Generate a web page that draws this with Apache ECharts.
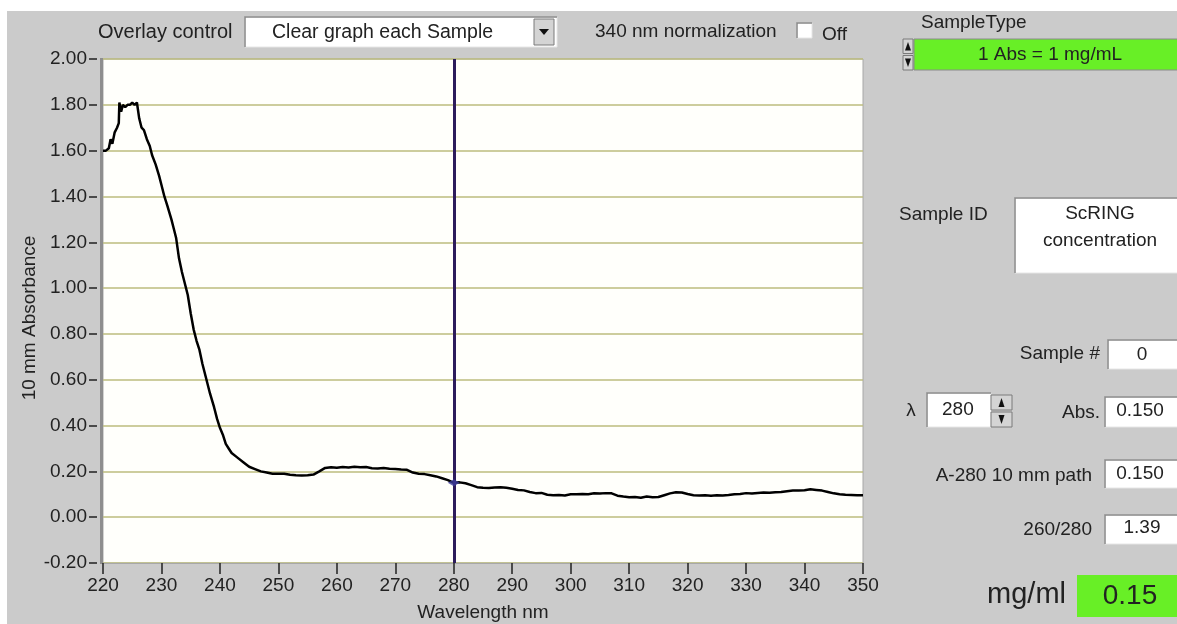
<!DOCTYPE html>
<html>
<head>
<meta charset="utf-8">
<script src="https://cdn.jsdelivr.net/npm/echarts@6/dist/echarts.min.js"></script>
<style>
html,body{margin:0;padding:0;background:#cbcbcb;}
#chart{width:1177px;height:624px;}
</style>
</head>
<body>
<div id="chart"></div>
<script>
// ---- data ----
const wavelengths = [220,220.5,221,221.3,221.6,222,222.4,222.7,222.8,223.1,223.4,223.8,224.2,224.6,225,225.4,225.8,226.2,226.6,227,227.5,228,228.4,229,229.6,230,230.5,231,231.7,232.1,232.5,233,233.5,234,234.5,235,235.5,236,236.5,237,237.7,238.3,239,239.5,240,240.5,241,241.5,242,243,244,245,246,247,248,249,250,251,252,253,254,255,256,257,258,259,260,261,262,263,264,265,266,267,268,269,270,271,272,273,274,275,276,277,278,279,280,281,282,283,284,285,286,287,288,289,290,291,292,293,294,295,296,297,298,299,300,301,302,303,304,305,306,307,308,309,310,311,312,313,314,315,316,317,318,319,320,321,322,323,324,325,326,327,328,329,330,331,332,333,334,335,336,337,338,339,340,341,342,343,344,345,346,347,348,349,350];
const absorbance = [1.60,1.60,1.61,1.65,1.63,1.68,1.70,1.72,1.81,1.77,1.80,1.79,1.80,1.80,1.81,1.80,1.81,1.74,1.70,1.69,1.65,1.62,1.58,1.54,1.49,1.45,1.40,1.36,1.30,1.26,1.22,1.13,1.07,1.02,0.97,0.89,0.82,0.77,0.73,0.67,0.60,0.54,0.48,0.43,0.39,0.36,0.32,0.30,0.28,0.26,0.24,0.22,0.21,0.20,0.195,0.19,0.19,0.19,0.185,0.183,0.182,0.183,0.186,0.20,0.215,0.218,0.216,0.219,0.217,0.220,0.218,0.219,0.214,0.213,0.215,0.211,0.210,0.208,0.207,0.195,0.190,0.188,0.183,0.178,0.170,0.162,0.150,0.152,0.148,0.140,0.131,0.128,0.127,0.130,0.131,0.128,0.124,0.119,0.117,0.110,0.105,0.106,0.098,0.096,0.097,0.095,0.100,0.100,0.101,0.100,0.104,0.103,0.105,0.104,0.094,0.090,0.087,0.088,0.085,0.090,0.087,0.088,0.096,0.104,0.109,0.108,0.101,0.096,0.095,0.096,0.094,0.096,0.095,0.097,0.100,0.101,0.105,0.103,0.106,0.108,0.107,0.109,0.110,0.113,0.116,0.117,0.118,0.122,0.119,0.116,0.110,0.104,0.100,0.098,0.097,0.096,0.096];
const cursorWavelength = 280;
const cursorAbs = 0.150;
const xRange = [220, 350, 10];
const yRange = [-0.2, 2.0, 0.2];
const xAxisTitle = 'Wavelength nm';
const yAxisTitle = '10 mm Absorbance';
const uiTexts = {
  overlayLabel: 'Overlay control',
  overlayValue: 'Clear graph each Sample',
  normLabel: '340 nm normalization',
  normState: 'Off',
  sampleTypeLabel: 'SampleType',
  sampleTypeValue: '1 Abs = 1 mg/mL',
  sampleIdLabel: 'Sample ID',
  sampleIdLines: ['ScRING', 'concentration'],
  sampleNumLabel: 'Sample #',
  sampleNum: '0',
  lambdaLabel: 'λ',
  lambdaValue: '280',
  absLabel: 'Abs.',
  absValue: '0.150',
  a280Label: 'A-280 10 mm path',
  a280Value: '0.150',
  ratioLabel: '260/280',
  ratioValue: '1.39',
  concLabel: 'mg/ml',
  concValue: '0.15'
};

const FONT = 'Liberation Sans, Arial, sans-serif';
const TXT = '#222222';
const GREEN = '#68ef26';

function txt(x, y, s, size, align, extra) {
  return Object.assign({
    type: 'text', z: 20,
    style: { x: x, y: y, text: s, fontFamily: FONT, fontSize: size || 19, fill: TXT,
             align: align || 'left', verticalAlign: 'middle' }
  }, extra || {});
}
function box(x, y, w, h, fill) {
  return [
    { type: 'rect', z: 10, shape: { x: x, y: y, width: w, height: h }, style: { fill: fill || '#ffffff', stroke: '#e6e6e6', lineWidth: 1 } },
    { type: 'polyline', z: 11, shape: { points: [[x, y + h], [x, y], [x + w, y]] }, style: { stroke: '#8a8a8a', lineWidth: 1.5, fill: null } }
  ];
}
function spinner(x, y, w, h) {
  const hh = h / 2;
  return [
    { type: 'rect', z: 12, shape: { x: x, y: y, width: w, height: hh - 1 }, style: { fill: '#d4d4d4', stroke: '#7a7a7a', lineWidth: 1 } },
    { type: 'rect', z: 12, shape: { x: x, y: y + hh + 1, width: w, height: hh - 1 }, style: { fill: '#d4d4d4', stroke: '#7a7a7a', lineWidth: 1 } },
    { type: 'polygon', z: 13, shape: { points: [[x + w / 2 - 3, y + hh - 4], [x + w / 2 + 3, y + hh - 4], [x + w / 2, y + 3]] }, style: { fill: '#111' } },
    { type: 'polygon', z: 13, shape: { points: [[x + w / 2 - 3, y + hh + 4], [x + w / 2 + 3, y + hh + 4], [x + w / 2, y + h - 3]] }, style: { fill: '#111' } }
  ];
}

const graphics = [].concat(
  // white strips at the top and left of the screenshot
  [{ type: 'rect', z: 1, shape: { x: 0, y: 0, width: 1177, height: 11 }, style: { fill: '#ffffff' } },
   { type: 'rect', z: 1, shape: { x: 0, y: 0, width: 7, height: 624 }, style: { fill: '#ffffff' } },
   // darker left edge of plot
   { type: 'rect', z: 5, shape: { x: 100, y: 58, width: 3, height: 506 }, style: { fill: '#8e8e8e' } }],
  // y axis title
  [{ type: 'text', z: 20, x: 30, y: 318, rotation: Math.PI / 2,
     style: { x: 0, y: 0, text: yAxisTitle, fontFamily: FONT, fontSize: 19, fill: TXT, align: 'center', verticalAlign: 'middle' } }],
  [txt(98, 32, uiTexts.overlayLabel, 20)],
  box(245, 17, 312, 30),
  [txt(272, 33, uiTexts.overlayValue, 19.5)],
  [{ type: 'rect', z: 12, shape: { x: 534, y: 19, width: 20, height: 26 }, style: { fill: '#d4d4d4', stroke: '#7a7a7a', lineWidth: 1 } },
   { type: 'polygon', z: 13, shape: { points: [[539, 29], [549, 29], [544, 35]] }, style: { fill: '#111' } }],
  [txt(595, 32, uiTexts.normLabel)],
  box(797, 23, 15, 15),
  [txt(822, 35, uiTexts.normState)],
  [txt(921, 23, uiTexts.sampleTypeLabel)],
  [{ type: 'rect', z: 10, shape: { x: 914, y: 39, width: 270, height: 31 }, style: { fill: GREEN, stroke: '#8a8a8a', lineWidth: 1 } }],
  spinner(903, 39, 10, 31),
  [txt(1050, 55, uiTexts.sampleTypeValue, 19, 'center')],
  [txt(899, 215, uiTexts.sampleIdLabel)],
  box(1015, 198, 170, 75),
  [txt(1100, 214, uiTexts.sampleIdLines[0], 19, 'center'), txt(1100, 241, uiTexts.sampleIdLines[1], 19, 'center')],
  [txt(1100, 354, uiTexts.sampleNumLabel, 19, 'right')],
  box(1108, 340, 75, 29),
  [txt(1142, 355, uiTexts.sampleNum, 19, 'center')],
  [txt(911, 411, uiTexts.lambdaLabel, 19, 'center')],
  box(927, 393, 64, 34),
  [txt(942, 410, uiTexts.lambdaValue)],
  spinner(991, 395, 21, 32),
  [txt(1100, 413, uiTexts.absLabel, 19, 'right')],
  box(1105, 397, 78, 30),
  [txt(1140, 411, uiTexts.absValue, 19, 'center')],
  [txt(1092, 476, uiTexts.a280Label, 19, 'right')],
  box(1105, 460, 78, 28),
  [txt(1140, 474, uiTexts.a280Value, 19, 'center')],
  [txt(1092, 530, uiTexts.ratioLabel, 19, 'right')],
  box(1105, 515, 78, 29),
  [txt(1142, 528, uiTexts.ratioValue, 19, 'center')],
  [txt(1066, 595, uiTexts.concLabel, 29, 'right')],
  [{ type: 'rect', z: 10, shape: { x: 1077, y: 575, width: 110, height: 42 }, style: { fill: GREEN } }],
  [txt(1130, 596, uiTexts.concValue, 28, 'center')]
);

const chart = echarts.init(document.getElementById('chart'), null, { renderer: 'canvas' });
chart.setOption({
  animation: false,
  backgroundColor: '#cbcbcb',
  grid: {
    left: 103, top: 59, width: 760, height: 504,
    outerBoundsMode: 'none', containLabel: false,
    show: true, backgroundColor: '#fffffb', borderColor: '#a8a8a8', borderWidth: 1
  },
  xAxis: {
    type: 'value', position: 'bottom', min: xRange[0], max: xRange[1], interval: xRange[2],
    z: 10,
    axisLine: { show: true, onZero: false, lineStyle: { color: '#a8a8a8', width: 1 } },
    axisTick: { show: true, inside: false, length: 11, lineStyle: { color: '#222', width: 1.5 } },
    axisLabel: { color: TXT, fontFamily: FONT, fontSize: 19, margin: 13 },
    splitLine: { show: false },
    name: xAxisTitle, nameLocation: 'middle', nameGap: 40,
    nameTextStyle: { color: TXT, fontFamily: FONT, fontSize: 19 }
  },
  yAxis: {
    type: 'value', min: yRange[0], max: yRange[1], interval: yRange[2],
    offset: 6,
    axisLine: { show: false, onZero: false },
    axisTick: { show: true, length: 8, lineStyle: { color: '#222', width: 1.5 } },
    axisLabel: { color: TXT, fontFamily: FONT, fontSize: 19, margin: 10,
                 formatter: v => v.toFixed(2) },
    splitLine: { show: true, lineStyle: { color: '#bcbc7e', width: 1.5 } }
  },
  graphic: graphics,
  series: [
    {
      type: 'line',
      data: wavelengths.map((w, i) => [w, absorbance[i]]),
      showSymbol: false, symbol: 'none',
      lineStyle: { color: '#000000', width: 2.5 },
      z: 3,
      markLine: {
        silent: true, symbol: 'none',
        label: { show: false },
        lineStyle: { color: '#2d1c5c', width: 3, type: 'solid' },
        data: [{ xAxis: cursorWavelength }]
      }
    },
    {
      type: 'scatter',
      data: [[cursorWavelength, cursorAbs]],
      symbol: 'diamond', symbolSize: [12, 7],
      itemStyle: { color: '#3a3a9a' },
      z: 5
    }
  ]
});
</script>
</body>
</html>
